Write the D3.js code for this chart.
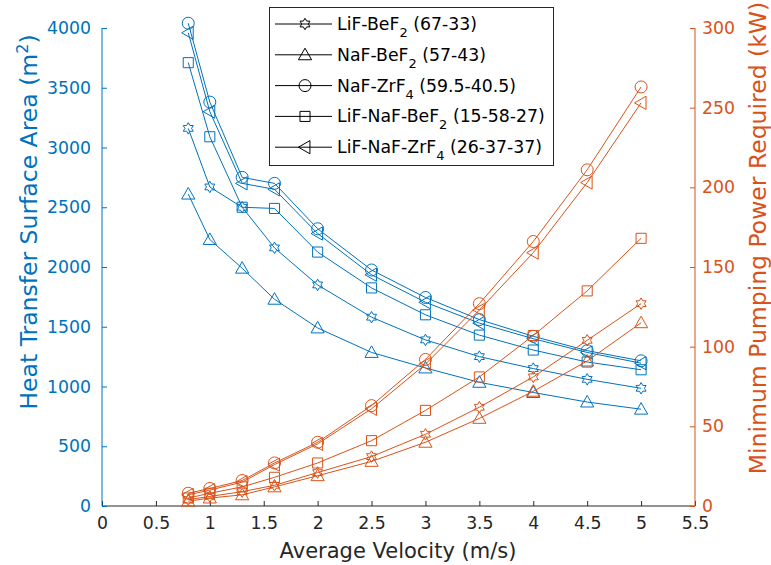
<!DOCTYPE html>
<html>
<head>
<meta charset="utf-8">
<script src="https://cdn.jsdelivr.net/npm/d3@7"></script>
<style>
  html, body { margin: 0; padding: 0; background: #fff; }
  svg { display: block; font-family: "DejaVu Sans", sans-serif; }
</style>
</head>
<body>
<svg id="chart" width="771" height="565"></svg>
<script>
// ---- data ----
const velocity = [0.8, 1, 1.3, 1.6, 2, 2.5, 3, 3.5, 4, 4.5, 5];
const seriesNames = ["LiF-BeF2 (67-33)", "NaF-BeF2 (57-43)", "NaF-ZrF4 (59.5-40.5)", "LiF-NaF-BeF2 (15-58-27)", "LiF-NaF-ZrF4 (26-37-37)"];
const legendParts = [
  ["LiF-BeF", "2", " (67-33)"],
  ["NaF-BeF", "2", " (57-43)"],
  ["NaF-ZrF", "4", " (59.5-40.5)"],
  ["LiF-NaF-BeF", "2", " (15-58-27)"],
  ["LiF-NaF-ZrF", "4", " (26-37-37)"]
];
const markers = ["hexagram", "triangleUp", "circle", "square", "triangleLeft"];

const areaLiFBeF2    = [3160, 2670, 2500, 2160, 1850, 1580, 1390, 1250, 1150, 1060, 985];
const areaNaFBeF2    = [2610, 2230, 1990, 1730, 1490, 1285, 1155, 1035, 950, 870, 810];
const areaNaFZrF4    = [4040, 3380, 2750, 2700, 2320, 1975, 1745, 1560, 1420, 1300, 1215];
const areaLiFNaFBeF2 = [3710, 3090, 2500, 2490, 2125, 1825, 1600, 1430, 1305, 1205, 1140];
const areaLiFNaFZrF4 = [3960, 3300, 2700, 2650, 2280, 1935, 1705, 1530, 1400, 1285, 1195];

const powerLiFBeF2    = [4, 6, 9, 13, 21, 31, 45, 62, 81, 104, 127];
const powerNaFBeF2    = [3, 5, 7, 12, 19, 28, 40, 55, 72, 91, 115];
const powerNaFZrF4    = [8, 11, 16, 27, 40, 63, 92, 127, 166, 211, 263];
const powerLiFNaFBeF2 = [5, 8, 12, 18, 27, 41, 60, 81, 107, 135, 168];
const powerLiFNaFZrF4 = [7, 10, 15, 26, 39, 61, 89, 123, 159, 203, 253];

const areaSeries  = [areaLiFBeF2, areaNaFBeF2, areaNaFZrF4, areaLiFNaFBeF2, areaLiFNaFZrF4];
const powerSeries = [powerLiFBeF2, powerNaFBeF2, powerNaFZrF4, powerLiFNaFBeF2, powerLiFNaFZrF4];

const xTicks = [0, 0.5, 1, 1.5, 2, 2.5, 3, 3.5, 4, 4.5, 5, 5.5];
const yLeftTicks = [0, 500, 1000, 1500, 2000, 2500, 3000, 3500, 4000];
const yRightTicks = [0, 50, 100, 150, 200, 250, 300];

// ---- layout ----
const blue = "#0072BD", orange = "#D95319", dark = "#262626";
const L = 102, R = 695, T = 28, B = 506;
const svg = d3.select("#chart");
const x = d3.scaleLinear().domain([0, 5.5]).range([L, R]);
const yL = d3.scaleLinear().domain([0, 4000]).range([B, T]);
const yR = d3.scaleLinear().domain([0, 300]).range([B, T]);

function markerPath(type, s) {
  if (type === "circle") {
    const r = s * 0.5;
    return `M${r},0A${r},${r} 0 1,1 ${-r},0A${r},${r} 0 1,1 ${r},0Z`;
  }
  if (type === "square") {
    const h = s * 0.42;
    return `M${-h},${-h}H${h}V${h}H${-h}Z`;
  }
  if (type === "triangleUp") {
    const h = s * 0.55;
    return `M0,${-h}L${h},${h * 0.75}L${-h},${h * 0.75}Z`;
  }
  if (type === "triangleLeft") {
    const h = s * 0.55;
    return `M${-h},0L${h * 0.75},${-h}L${h * 0.75},${h}Z`;
  }
  if (type === "hexagram") {
    const ro = s * 0.48, ri = ro * 0.577;
    const pts = [];
    for (let i = 0; i < 12; i++) {
      const a = -Math.PI / 2 + i * Math.PI / 6;
      const r = i % 2 === 0 ? ro : ri;
      pts.push([r * Math.cos(a), r * Math.sin(a)]);
    }
    return "M" + pts.map(p => p[0].toFixed(2) + "," + p[1].toFixed(2)).join("L") + "Z";
  }
}

// ---- axes ----
const tickLen = 5;
const fs = 17.3;

// bottom axis
const gx = svg.append("g").attr("transform", `translate(0,${B})`);
gx.call(d3.axisBottom(x).tickValues(xTicks).tickSize(0).tickPadding(11).tickFormat(d3.format("")));
gx.select(".domain").attr("stroke", dark).attr("d", `M${L},0H${R}`);
gx.selectAll(".tick text").attr("fill", dark).style("font-size", fs + "px").style("font-family", "DejaVu Sans");
gx.selectAll(".tick").append("line").attr("y1", 0).attr("y2", -tickLen).attr("stroke", dark);

// left axis
const gyl = svg.append("g").attr("transform", `translate(${L},0)`);
gyl.call(d3.axisLeft(yL).tickValues(yLeftTicks).tickSize(0).tickPadding(11).tickFormat(d3.format("")));
gyl.select(".domain").attr("stroke", blue).attr("d", `M0,${T}V${B}`);
gyl.selectAll(".tick text").attr("fill", blue).style("font-size", fs + "px").style("font-family", "DejaVu Sans");
gyl.selectAll(".tick").append("line").attr("x1", 0).attr("x2", tickLen).attr("stroke", blue);

// right axis
const gyr = svg.append("g").attr("transform", `translate(${R},0)`);
gyr.call(d3.axisRight(yR).tickValues(yRightTicks).tickSize(0).tickPadding(7).tickFormat(d3.format("")));
gyr.select(".domain").attr("stroke", orange).attr("d", `M0,${T}V${B}`);
gyr.selectAll(".tick text").attr("fill", orange).style("font-size", fs + "px").style("font-family", "DejaVu Sans");
gyr.selectAll(".tick").append("line").attr("x1", 0).attr("x2", -tickLen).attr("stroke", orange);

// axis labels
svg.append("text").attr("x", 398).attr("y", 558).attr("text-anchor", "middle")
  .attr("fill", dark).style("font-size", "21px").text("Average Velocity (m/s)");

const ylab = svg.append("text").attr("transform", `translate(37,222) rotate(-90)`)
  .attr("text-anchor", "middle").attr("fill", blue).style("font-size", "23.5px");
ylab.append("tspan").text("Heat Transfer Surface Area (m");
ylab.append("tspan").attr("dy", -9).style("font-size", "16px").text("2");
ylab.append("tspan").attr("dy", 9).text(")");

svg.append("text").attr("transform", `translate(766,238) rotate(-90)`)
  .attr("text-anchor", "middle").attr("fill", orange).style("font-size", "23.5px")
  .text("Minimum Pumping Power Required (kW)");

// ---- series ----
const msize = 12;
function drawSeries(values, yScale, color, mtype) {
  const pts = velocity.map((v, i) => [x(v), yScale(values[i])]);
  svg.append("path").attr("d", d3.line()(pts)).attr("fill", "none").attr("stroke", color).attr("stroke-width", 1);
  svg.append("g").selectAll("path").data(pts).join("path")
    .attr("transform", d => `translate(${d[0]},${d[1]})`)
    .attr("d", markerPath(mtype, msize))
    .attr("fill", "none").attr("stroke", color).attr("stroke-width", 1);
}
areaSeries.forEach((s, i) => drawSeries(s, yL, blue, markers[i]));
powerSeries.forEach((s, i) => drawSeries(s, yR, orange, markers[i]));

// ---- legend ----
const lg = svg.append("g");
lg.append("rect").attr("x", 269.5).attr("y", 7.5).attr("width", 284).attr("height", 158)
  .attr("fill", "#fff").attr("stroke", "#262626").attr("stroke-width", 1);
legendParts.forEach((p, i) => {
  const cy = 24 + i * 30.8;
  lg.append("line").attr("x1", 275).attr("x2", 332).attr("y1", cy).attr("y2", cy).attr("stroke", "#000");
  lg.append("path").attr("transform", `translate(305,${cy})`).attr("d", markerPath(markers[i], msize))
    .attr("fill", "none").attr("stroke", "#000");
  const t = lg.append("text").attr("x", 337).attr("y", cy + 6).attr("fill", "#000").style("font-size", "17.3px");
  t.append("tspan").text(p[0]);
  t.append("tspan").attr("dy", 7).style("font-size", "13px").text(p[1]);
  t.append("tspan").attr("dy", -7).text(p[2]);
});
</script>
</body>
</html>
